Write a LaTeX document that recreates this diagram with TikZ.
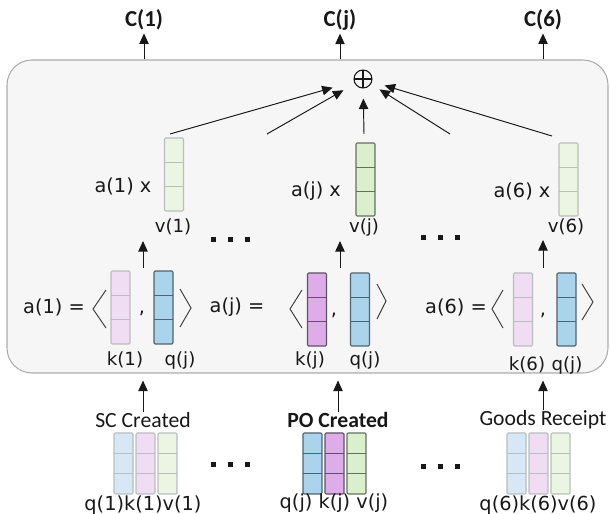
\documentclass[tikz,border=0pt]{standalone}
\usepackage{fontspec}
\setmainfont{Carlito}
\newfontfamily\vecfont{DejaVu Sans}
\usetikzlibrary{arrows.meta,calc}
\newlength\px
\setlength\px{0.03cm}

\definecolor{boxfill}{RGB}{246,246,246}
\definecolor{boxline}{RGB}{172,172,172}
\definecolor{qfull}{RGB}{170,212,236}
\definecolor{qfullline}{RGB}{84,98,106}
\definecolor{kfull}{RGB}{222,172,232}
\definecolor{kfullline}{RGB}{92,84,96}
\definecolor{vfull}{RGB}{218,240,204}
\definecolor{vfullline}{RGB}{100,112,96}
\definecolor{qfaint}{RGB}{214,232,245}
\definecolor{kfaint}{RGB}{240,220,243}
\definecolor{vfaint}{RGB}{234,245,226}
\definecolor{faintline}{RGB}{186,190,190}
\definecolor{ink}{RGB}{24,24,24}

\tikzset{
  cellcol/.style 2 args={draw=#2, fill=#1, line width=0.9pt, rounded corners=1pt,
    inner sep=0pt, minimum width=19\px,
    path picture={
      \foreach \fr in {0.3333,0.6667}
        \draw[#2, line width=0.9pt]
          ($(path picture bounding box.north west)!\fr!(path picture bounding box.south west)$) --
          ($(path picture bounding box.north east)!\fr!(path picture bounding box.south east)$);
    }},
  colh/.style={minimum height=73\px},
  colshort/.style={minimum height=61\px},
  albl/.style={font=\vecfont\fontsize{16.5}{18}\selectfont, inner sep=0pt, text=ink},
  lblsmall/.style={font=\vecfont\fontsize{15.5}{17}\selectfont, inner sep=0pt, text=ink},
  evt/.style={font=\fontsize{18.5}{20}\selectfont, inner sep=0pt, text=ink},
  ctitle/.style={font=\bfseries\fontsize{19.5}{21}\selectfont, inner sep=0pt, text=ink},
  arr/.style={-{Triangle[length=9pt,width=8pt]}, line width=0.8pt, draw=ink, fill=ink},
  brk/.style={line width=0.8pt, draw=ink!85},
  dotsq/.style={fill=ink},
}

\begin{document}
\begin{tikzpicture}[x=0.03cm,y=-0.03cm]
\useasboundingbox (0,0) rectangle (610,514);

% attention block
\node[draw=boxline, fill=boxfill, line width=0.9pt, rounded corners=25\px,
      minimum width=601\px, minimum height=313\px, inner sep=0pt] (blk) at (307.5,216.5) {};

% outputs
\node[ctitle] (c1) at (144,20) {C(1)};
\node[ctitle] (cj) at (340,20) {C(j)};
\node[ctitle] (c6) at (543,20) {C(6)};
\draw[arr, shorten >=3\px] (c1 |- blk.north) -- (c1.south);
\draw[arr, shorten >=3\px] (cj |- blk.north) -- (cj.south);
\draw[arr, shorten >=3\px] (c6 |- blk.north) -- (c6.south);

% sum
\node[circle, draw=ink, line width=0.9pt, minimum size=18\px, inner sep=0pt,
      path picture={\draw[ink, line width=0.9pt]
        (path picture bounding box.north) -- (path picture bounding box.south)
        (path picture bounding box.west) -- (path picture bounding box.east);}] (sum) at (363,79) {};

% weighted values
\node[cellcol={vfaint}{faintline}, colh] (v1) at (174,174.5) {};
\node[cellcol={vfull}{vfullline}, colh] (vj) at (365.5,179.5) {};
\node[cellcol={vfaint}{faintline}, colh] (v6) at (568.5,179.5) {};
\node[albl] (ax1) at (123,186) {a(1) x};
\node[albl] (axj) at (316,191) {a(j) x};
\node[albl] (ax6) at (522,191) {a(6) x};
\node[lblsmall] (v1l) at (173,227) {v(1)};
\node[lblsmall] (vjl) at (364,227) {v(j)};
\node[lblsmall] (v6l) at (566,227) {v(6)};

\coordinate (s2) at (267,134);
\coordinate (s4) at (450,134);
\coordinate (s1) at (170,134);
\coordinate (s3) at (364,134);
\coordinate (s5) at (552,136);
\draw[arr, shorten >=22\px] (s1) -- (sum);
\draw[arr, shorten >=13\px] (s2) -- (sum);
\draw[arr, shorten >=10\px] (s3) -- (sum);
\draw[arr, shorten >=10\px] (s4) -- (sum);
\draw[arr, shorten >=13\px] (s5) -- (sum);

% dots between columns
\foreach \cx/\cy in {230/240, 440/238, 230/465, 440/467}
  \foreach \dx in {-17,0,17}
    \fill[dotsq] (\cx+\dx-2.5,\cy-2.5) rectangle ++(5,5);

% attention weights
\node[albl] (eq1) at (54,307) {a(1) =};
\node[albl] (eqj) at (237,307) {a(j) =};
\node[albl] (eq6) at (456,307) {a(6) =};

\node[cellcol={kfaint}{faintline}, colh] (k1) at (120.5,307.5) {};
\node[cellcol={qfull}{qfullline}, colh] (q1) at (163.5,307.5) {};
\node[cellcol={kfull}{kfullline}, colh] (kj) at (317,309.5) {};
\node[cellcol={qfull}{qfullline}, colh] (qj) at (360,309.5) {};
\node[cellcol={kfaint}{faintline}, colh] (k6) at (523,309.5) {};
\node[cellcol={qfull}{qfullline}, colh] (q6) at (566.5,309.5) {};

\node[albl] (cm1) at (142,313) {,};
\node[albl] (cmj) at (334,315) {,};
\node[albl] (cm6) at (543,315) {,};

\draw[brk] (106,290) -- (93,309) -- (106,328);
\draw[brk] (180,289) -- (191,308) -- (180,327);
\draw[brk] (302,290) -- (290,309) -- (302,328);
\draw[brk] (377,284) -- (386,301) -- (377,319);
\draw[brk] (503,290) -- (492,309) -- (503,328);
\draw[brk] (582,284) -- (593,302) -- (582,320);

\node[lblsmall] (k1l) at (125,360) {k(1)};
\node[lblsmall] (q1l) at (180,360) {q(j)};
\node[lblsmall] (kjl) at (310,360) {k(j)};
\node[lblsmall] (qjl) at (365,360) {q(j)};
\node[lblsmall] (k6l) at (527,365) {k(6)};
\node[lblsmall] (q6l) at (567,365) {q(j)};

\coordinate (u1a) at (143,268); \coordinate (u1b) at (143,241);
\coordinate (uja) at (340,268); \coordinate (ujb) at (340,241);
\coordinate (u6a) at (543,268); \coordinate (u6b) at (543,240);
\draw[arr] (u1a) -- (u1b);
\draw[arr] (uja) -- (ujb);
\draw[arr] (u6a) -- (u6b);

% events
\node[evt] (sc) at (143,420) {SC Created};
\node[evt, font=\bfseries\fontsize{18.5}{20}\selectfont] (po) at (338,420) {PO Created};
\node[evt] (gr) at (543,420) {Goods Receipt};
\draw[arr, shorten >=7\px] (sc.north) -- (sc |- blk.south);
\draw[arr, shorten >=7\px] (po.north) -- (po |- blk.south);
\draw[arr, shorten >=7\px] (gr.north) -- (gr |- blk.south);

% event embeddings
\node[cellcol={qfaint}{faintline}, colshort] (eq1c) at (123.5,463.5) {};
\node[cellcol={kfaint}{faintline}, colshort] (ek1c) at (145.5,463.5) {};
\node[cellcol={vfaint}{faintline}, colshort] (ev1c) at (167.5,463.5) {};
\node[cellcol={qfull}{qfullline}, colshort] (eqjc) at (312.5,463.5) {};
\node[cellcol={kfull}{kfullline}, colshort] (ekjc) at (334.5,463.5) {};
\node[cellcol={vfull}{vfullline}, colshort] (evjc) at (356.5,463.5) {};
\node[cellcol={qfaint}{faintline}, colshort] (eq6c) at (516.5,463.5) {};
\node[cellcol={kfaint}{faintline}, colshort] (ek6c) at (538.5,463.5) {};
\node[cellcol={vfaint}{faintline}, colshort] (ev6c) at (560.5,463.5) {};

\node[albl] (e1l) at (143,505) {q(1)k(1)v(1)};
\node[albl] (ejl) at (334,503) {q(j) k(j) v(j)};
\node[albl] (e6l) at (538,505) {q(6)k(6)v(6)};
\end{tikzpicture}
\end{document}
